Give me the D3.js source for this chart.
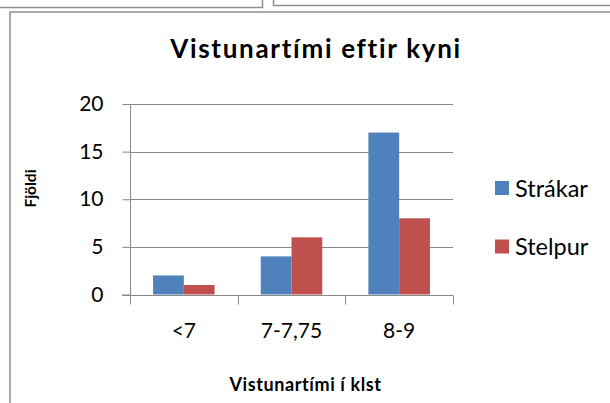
<!DOCTYPE html>
<html><head><meta charset="utf-8">
<script src="https://cdn.jsdelivr.net/npm/d3@7"></script>
<style>html,body{margin:0;padding:0;background:#fff;}svg{display:block;font-family:Lato,"Open Sans",sans-serif;}</style>
</head><body>
<script>
const categories = ["<7", "7-7,75", "8-9"];
const seriesNames = ["Strákar", "Stelpur"];
const strakar = [2, 4, 17];
const stelpur = [1, 6, 8];
const yTicks = [0, 5, 10, 15, 20];
const colors = ["#4F81BD", "#C0504D"];
const title = "Vistunartími eftir kyni";
const xTitle = "Vistunartími í klst";
const yTitle = "Fjöldi";

const W = 610, H = 403;
const svg = d3.select("body").append("svg").attr("width", W).attr("height", H);

// background frames (parts of surrounding boxes)
const frame = "#8f8f8f";
svg.append("path").attr("d", "M0,7.5H262.5V0").attr("fill", "none").attr("stroke", frame).attr("stroke-width", 1.5);
svg.append("path").attr("d", "M273.5,0V5.5H610").attr("fill", "none").attr("stroke", frame).attr("stroke-width", 1.5);
svg.append("path").attr("d", "M10,403V12H610").attr("fill", "none").attr("stroke", frame).attr("stroke-width", 1.5);

const x0 = d3.scaleBand().domain(categories).range([130, 453]);
// Excel-like gap: 150% of bar width spread on both sides
const barW = x0.bandwidth() / 3.5;
const y = d3.scaleLinear().domain([0, 20]).range([294.5, 104]);

const grid = "#888888";
// gridlines
svg.append("g").selectAll("line").data(yTicks.filter(d => d > 0)).join("line")
  .attr("x1", 130).attr("x2", 453).attr("y1", d => Math.round(y(d)) + 0.5).attr("y2", d => Math.round(y(d)) + 0.5)
  .attr("stroke", grid).attr("stroke-width", 1);

// bars
const data = categories.map((c, i) => ({c, vals: [strakar[i], stelpur[i]]}));
const g = svg.append("g");
data.forEach(d => {
  d.vals.forEach((v, j) => {
    const bx = x0(d.c) + barW * 0.75 + j * barW;
    g.append("rect").attr("x", bx).attr("width", barW)
      .attr("y", y(v)).attr("height", y(0) - y(v)).attr("fill", colors[j]);
  });
});

// y axis
const yAxis = d3.axisLeft(y).tickValues(yTicks).tickSize(8).tickPadding(19);
const ya = svg.append("g").attr("transform", "translate(130.5,0)").call(yAxis);
ya.select(".domain").attr("stroke", grid).attr("d", `M0,${y(20)}V${y(0)+9}`);
ya.selectAll(".tick line").attr("stroke", grid);
ya.selectAll(".tick text").attr("font-size", 21).attr("fill", "#000").attr("font-family", "Lato");

// x axis
const xAxis = d3.axisBottom(x0).tickSize(0).tickPadding(28);
const xa = svg.append("g").attr("transform", `translate(0,${Math.round(y(0)) + 0.5})`).call(xAxis);
xa.select(".domain").attr("stroke", grid).attr("d", "M122,0H453");
xa.selectAll(".tick text").attr("font-size", 21).attr("fill", "#000").attr("font-family", "Lato");
xa.selectAll(".bt").data(categories.concat(["_end"])).join("line")
  .attr("x1", (d, i) => Math.round(130 + i * x0.bandwidth()) + 0.5)
  .attr("x2", (d, i) => Math.round(130 + i * x0.bandwidth()) + 0.5)
  .attr("y1", 0).attr("y2", 9).attr("stroke", grid);

// title
svg.append("text").attr("x", 316).attr("y", 58).attr("text-anchor", "middle")
  .attr("font-size", 26).attr("letter-spacing", 1.7).attr("font-weight", "bold").attr("fill", "#000").text(title);
// axis titles
svg.append("text").attr("x", 305.5).attr("y", 391).attr("text-anchor", "middle")
  .attr("font-size", 18).attr("letter-spacing", 0.6).attr("font-weight", "bold").attr("fill", "#000").text(xTitle);
svg.append("text").attr("transform", "translate(36,188.5) rotate(-90)").attr("text-anchor", "middle")
  .attr("font-size", 15.5).attr("font-weight", "bold").attr("fill", "#000").text(yTitle);

// legend
const lg = svg.append("g");
seriesNames.forEach((s, i) => {
  const ly = 188 + i * 58.5;
  lg.append("rect").attr("x", 495).attr("y", ly - 7).attr("width", 14).attr("height", 14).attr("fill", colors[i]);
  lg.append("text").attr("x", 515).attr("y", ly + 8.5).attr("font-size", 23.5).attr("fill", "#000").text(s);
});
</script>
</body></html>
